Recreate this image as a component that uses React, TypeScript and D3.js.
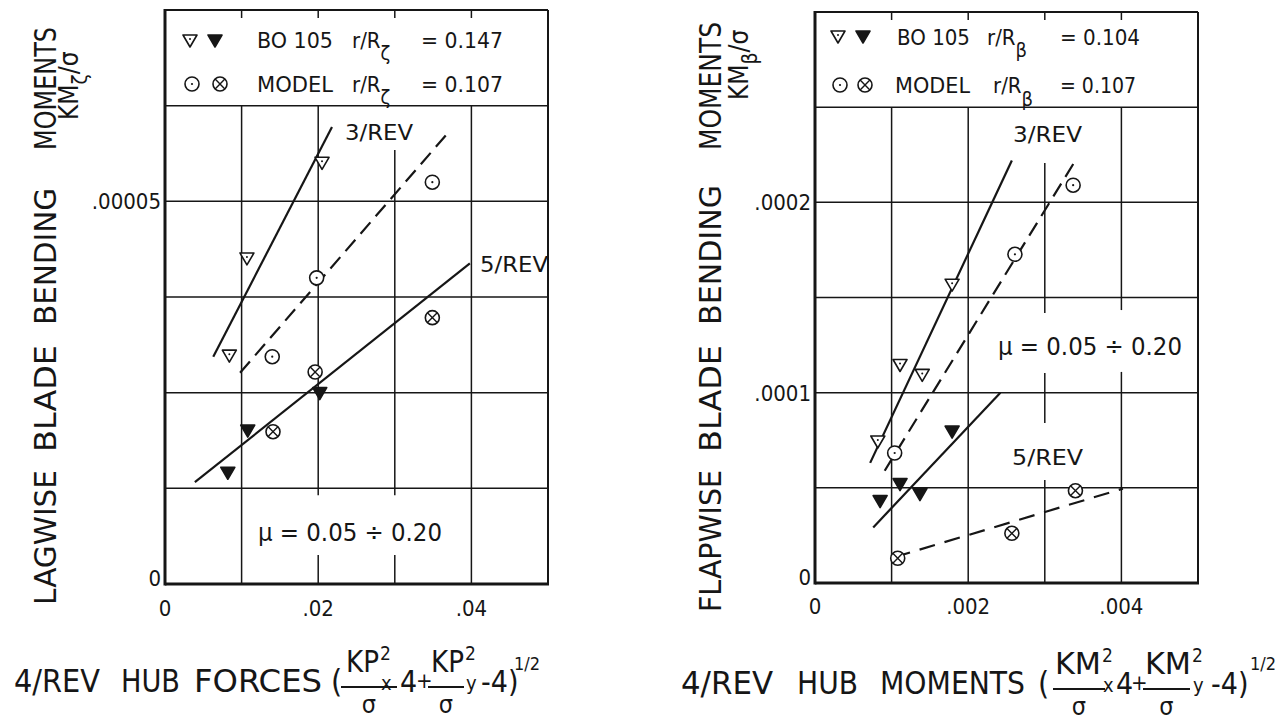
import React from "react";
import * as d3 from "d3";

const FONT = "'DejaVu Sans Condensed', 'Liberation Sans Narrow', 'DejaVu Sans', sans-serif";
const INK = "#161616";

type Pt = [number, number];

// ---------- Left panel: lagwise bending moments vs 4/rev hub forces ----------
const lagXDomain: Pt = [0, 0.05];
const lagYDomain: Pt = [0, 0.000075];
const lagXTicks = [0, 0.02, 0.04];
const lagXTickLabels = ["0", ".02", ".04"];
const lagYTicks = [0, 0.00005];
const lagYTickLabels = ["0", ".00005"];
const lagXGrid = [0.01, 0.02, 0.03, 0.04];
const lagYGrid = [0.0000125, 0.000025, 0.0000375, 0.00005, 0.0000625];

const lagBo105Open3: Pt[] = [[0.0205, 0.0000551], [0.0107, 0.0000426], [0.0084, 0.0000299]];
const lagBo105Filled5: Pt[] = [[0.0108, 0.0000201], [0.0082, 0.0000146], [0.0202, 0.000025]];
const lagModelOpen3: Pt[] = [[0.0349, 0.0000525], [0.0198, 0.00004], [0.014, 0.0000297]];
const lagModelCross5: Pt[] = [[0.0349, 0.0000348], [0.0196, 0.0000277], [0.0141, 0.0000199]];

const lagFitBo105_3: Pt[] = [[0.0063, 0.0000297], [0.0218, 0.0000597]];
const lagFitModel_3: Pt[] = [[0.0098, 0.0000276], [0.0369, 0.0000589]];
const lagFit_5: Pt[] = [[0.0039, 0.0000133], [0.0398, 0.0000419]];

// ---------- Right panel: flapwise bending moments vs 4/rev hub moments ----------
const flapXDomain: Pt = [0, 0.005];
const flapYDomain: Pt = [0, 0.0003];
const flapXTicks = [0, 0.002, 0.004];
const flapXTickLabels = ["0", ".002", ".004"];
const flapYTicks = [0, 0.0001, 0.0002];
const flapYTickLabels = ["0", ".0001", ".0002"];
const flapXGrid = [0.001, 0.002, 0.003, 0.004];
const flapYGrid = [0.00005, 0.0001, 0.00015, 0.0002, 0.00025];

const flapBo105Open3: Pt[] = [[0.00179, 0.000157], [0.00111, 0.0001148], [0.0014, 0.0001096], [0.00082, 0.0000746]];
const flapBo105Filled5: Pt[] = [[0.00179, 0.0000798], [0.00085, 0.0000433], [0.00111, 0.0000522], [0.00137, 0.000047]];
const flapModelOpen3: Pt[] = [[0.00337, 0.000209], [0.00261, 0.0001727], [0.00104, 0.0000683]];
const flapModelCross5: Pt[] = [[0.0034, 0.0000485], [0.00257, 0.0000261], [0.00108, 0.000013]];

const flapFitBo105_3: Pt[] = [[0.00072, 0.0000631], [0.00257, 0.000222]];
const flapFitModel_3: Pt[] = [[0.00091, 0.000059], [0.0034, 0.000222]];
const flapFitBo105_5: Pt[] = [[0.00076, 0.0000292], [0.00242, 0.0001]];
const flapFitModel_5: Pt[] = [[0.00104, 0.0000136], [0.00402, 0.0000496]];

type Gap = { x: number; from: number; to: number };

const lagGaps: Gap[] = [
  { x: 0.03, from: 0.0000567, to: 0.0000625 },
  { x: 0.02, from: 0.0000038, to: 0.0000116 },
  { x: 0.03, from: 0.0000038, to: 0.0000116 },
];
const flapGaps: Gap[] = [
  { x: 0.003, from: 0.0002207, to: 0.00025 },
  { x: 0.003, from: 0.0001103, to: 0.0001419 },
  { x: 0.003, from: 0.0000541, to: 0.0000841 },
  { x: 0.004, from: 0.0001109, to: 0.0001434 },
];

type MarkerKind = "triOpen" | "triFilled" | "circOpen" | "circCross";

function Marker({ kind, cx, cy }: { kind: MarkerKind; cx: number; cy: number }) {
  if (kind === "triOpen" || kind === "triFilled") {
    const d = `M${cx - 7},${cy - 5} L${cx + 7},${cy - 5} L${cx},${cy + 7} Z`;
    return (
      <g>
        <path d={d} fill={kind === "triFilled" ? INK : "#fff"} stroke={INK} strokeWidth={1.6} strokeLinejoin="round" />
        {kind === "triOpen" && <circle cx={cx} cy={cy - 1} r={1} fill={INK} />}
      </g>
    );
  }
  const r = 7;
  const k = r * 0.7;
  return (
    <g>
      <circle cx={cx} cy={cy} r={r} fill="#fff" stroke={INK} strokeWidth={1.6} />
      {kind === "circOpen" ? (
        <circle cx={cx} cy={cy} r={1.1} fill={INK} />
      ) : (
        <path d={`M${cx - k},${cy - k} L${cx + k},${cy + k} M${cx + k},${cy - k} L${cx - k},${cy + k}`} stroke={INK} strokeWidth={1.4} />
      )}
    </g>
  );
}

type Series = { pts: Pt[]; kind: MarkerKind };
type Fit = { pts: Pt[]; dashed?: string };

type PanelProps = {
  xRange: Pt;
  yRange: Pt;
  xDomain: Pt;
  yDomain: Pt;
  xGrid: number[];
  yGrid: number[];
  legendValue: number;
  gaps: Gap[];
  xTicks: number[];
  xTickLabels: string[];
  yTicks: number[];
  yTickLabels: string[];
  xLabelBaseline: number;
  series: Series[];
  fits: Fit[];
};

function Panel(p: PanelProps) {
  const x = d3.scaleLinear().domain(p.xDomain).range(p.xRange);
  const y = d3.scaleLinear().domain(p.yDomain).range(p.yRange);
  const line = d3.line<Pt>().x((d) => x(d[0])).y((d) => y(d[1]));
  const [x0, x1] = p.xRange;
  const [yb, yt] = p.yRange;

  const vSegments: { gx: number; a: number; b: number }[] = [];
  p.xGrid.forEach((gx) => {
    const gs = p.gaps.filter((g) => g.x === gx).sort((a, b) => a.from - b.from);
    let start = p.yDomain[0];
    gs.forEach((g) => {
      vSegments.push({ gx, a: start, b: g.from });
      start = g.to;
    });
    if (start < p.legendValue) vSegments.push({ gx, a: start, b: p.legendValue });
  });

  return (
    <g>
      {p.yGrid.map((gy, i) => (
        <line key={"h" + i} x1={x0} x2={x1} y1={y(gy)} y2={y(gy)} stroke={INK} strokeWidth={1.5} />
      ))}
      {vSegments.map((s, i) => (
        <line key={"v" + i} x1={x(s.gx)} x2={x(s.gx)} y1={y(s.a)} y2={y(s.b)} stroke={INK} strokeWidth={1.5} />
      ))}
      {p.xGrid.map((gx, i) => (
        <line key={"t" + i} x1={x(gx)} x2={x(gx)} y1={yt} y2={yt + 8} stroke={INK} strokeWidth={1.5} />
      ))}
      {/* frame */}
      <line x1={x0} x2={x1} y1={yt} y2={yt} stroke={INK} strokeWidth={2} />
      <line x1={x1} x2={x1} y1={yt} y2={yb} stroke={INK} strokeWidth={2} />
      <line x1={x0} x2={x0} y1={yt - 1} y2={yb + 1.5} stroke={INK} strokeWidth={3} />
      <line x1={x0} x2={x1 + 1} y1={yb} y2={yb} stroke={INK} strokeWidth={3} />

      {p.fits.map((f, i) => (
        <path key={"f" + i} d={line(f.pts) || ""} fill="none" stroke={INK} strokeWidth={2.2} strokeDasharray={f.dashed} />
      ))}
      {p.series.map((s, i) =>
        s.pts.map((d, j) => <Marker key={"m" + i + "_" + j} kind={s.kind} cx={x(d[0])} cy={y(d[1])} />)
      )}

      {p.xTicks.map((v, i) => (
        <text key={"xl" + i} x={x(v)} y={p.xLabelBaseline} textAnchor="middle" fontSize={22} fill={INK} fontFamily={FONT}>
          {p.xTickLabels[i]}
        </text>
      ))}
      {p.yTicks.map((v, i) => (
        <text key={"yl" + i} x={x0 - 4} y={v === 0 ? y(v) + 2 : y(v) + 8} textAnchor="end" fontSize={22} fill={INK} fontFamily={FONT}>
          {p.yTickLabels[i]}
        </text>
      ))}
    </g>
  );
}

function T(props: any) {
  const { children, ...rest } = props;
  return (
    <text fill={INK} fontFamily={FONT} {...rest}>
      {children}
    </text>
  );
}

function Word({ text, x, y, len, size }: { text: string; x: number; y: number; len: number; size: number }) {
  return (
    <T x={x} y={y} fontSize={size} textLength={len} lengthAdjust="spacingAndGlyphs">
      {text}
    </T>
  );
}

function VWord({ text, bx, from, to, size }: { text: string; bx: number; from: number; to: number; size: number }) {
  return (
    <T transform={`translate(${bx},${from}) rotate(-90)`} x={0} y={0} fontSize={size} textLength={from - to} lengthAdjust="spacingAndGlyphs">
      {text}
    </T>
  );
}

function Fraction({ num, sup, sub, x, numLen, barX1, barX2, base }: { num: string; sup: string; sub: string; x: number; numLen: number; barX1: number; barX2: number; base: number }) {
  return (
    <g>
      <Word text={num} x={x} y={base - 20} len={numLen} size={30} />
      <T x={x + numLen + 1} y={base - 32} fontSize={19}>{sup}</T>
      <T x={x + numLen + 2} y={base - 2} fontSize={20}>{sub}</T>
      <line x1={barX1} x2={barX2} y1={base - 5} y2={base - 5} stroke={INK} strokeWidth={1.8} />
      <T x={(barX1 + barX2) / 2} y={base + 21} fontSize={25} textAnchor="middle">σ</T>
    </g>
  );
}

export default function App() {
  const W = 1275;
  const H = 725;
  return (
    <svg width={W} height={H} viewBox={`0 0 ${W} ${H}`} style={{ position: "absolute", left: 0, top: 0, background: "#fff" }}>
      <rect x={0} y={0} width={W} height={H} fill="#fff" />

      <Panel
        xRange={[165, 548]}
        yRange={[584, 10]}
        xDomain={lagXDomain}
        yDomain={lagYDomain}
        xGrid={lagXGrid}
        yGrid={lagYGrid}
        legendValue={0.0000625}
        gaps={lagGaps}
        xTicks={lagXTicks}
        xTickLabels={lagXTickLabels}
        yTicks={lagYTicks}
        yTickLabels={lagYTickLabels}
        xLabelBaseline={616}
        fits={[{ pts: lagFitBo105_3 }, { pts: lagFitModel_3, dashed: "15 8" }, { pts: lagFit_5 }]}
        series={[
          { pts: lagBo105Open3, kind: "triOpen" },
          { pts: lagBo105Filled5, kind: "triFilled" },
          { pts: lagModelOpen3, kind: "circOpen" },
          { pts: lagModelCross5, kind: "circCross" },
        ]}
      />

      <Panel
        xRange={[815, 1198]}
        yRange={[583, 12]}
        xDomain={flapXDomain}
        yDomain={flapYDomain}
        xGrid={flapXGrid}
        yGrid={flapYGrid}
        legendValue={0.00025}
        gaps={flapGaps}
        xTicks={flapXTicks}
        xTickLabels={flapXTickLabels}
        yTicks={flapYTicks}
        yTickLabels={flapYTickLabels}
        xLabelBaseline={614}
        fits={[
          { pts: flapFitBo105_3 },
          { pts: flapFitModel_3, dashed: "15 8" },
          { pts: flapFitBo105_5 },
          { pts: flapFitModel_5, dashed: "16 10" },
        ]}
        series={[
          { pts: flapBo105Open3, kind: "triOpen" },
          { pts: flapBo105Filled5, kind: "triFilled" },
          { pts: flapModelOpen3, kind: "circOpen" },
          { pts: flapModelCross5, kind: "circCross" },
        ]}
      />

      {/* Left legend */}
      <Marker kind="triOpen" cx={190} cy={40} />
      <Marker kind="triFilled" cx={215} cy={40} />
      <Word text="BO 105" x={257} y={48} len={76} size={22} />
      <T x={352} y={48} fontSize={22}>r/R<tspan fontSize={20} dy={12}>ζ</tspan></T>
      <Word text="= 0.147" x={421} y={48} len={82} size={22} />
      <Marker kind="circOpen" cx={192} cy={84} />
      <Marker kind="circCross" cx={220} cy={84} />
      <Word text="MODEL" x={257} y={92} len={76} size={22} />
      <T x={352} y={92} fontSize={22}>r/R<tspan fontSize={20} dy={12}>ζ</tspan></T>
      <Word text="= 0.107" x={421} y={92} len={82} size={22} />

      {/* Left annotations */}
      <Word text="3/REV" x={345} y={140} len={68} size={22} />
      <Word text="5/REV" x={480} y={272} len={68} size={22} />
      <Word text="μ = 0.05 ÷ 0.20" x={258} y={541} len={184} size={25} />

      {/* Right legend */}
      <Marker kind="triOpen" cx={838} cy={36} />
      <Marker kind="triFilled" cx={863} cy={36} />
      <Word text="BO 105" x={897} y={45} len={73} size={22} />
      <T x={987} y={45} fontSize={22}>r/R<tspan fontSize={20} dy={12}>β</tspan></T>
      <Word text="= 0.104" x={1060} y={45} len={80} size={22} />
      <Marker kind="circOpen" cx={840} cy={85} />
      <Marker kind="circCross" cx={865} cy={85} />
      <Word text="MODEL" x={895} y={93} len={75} size={22} />
      <T x={993} y={93} fontSize={22}>r/R<tspan fontSize={20} dy={13}>β</tspan></T>
      <Word text="= 0.107" x={1060} y={93} len={76} size={22} />

      {/* Right annotations */}
      <Word text="3/REV" x={1013} y={142} len={69} size={22} />
      <Word text="5/REV" x={1012} y={465} len={71} size={22} />
      <Word text="μ = 0.05 ÷ 0.20" x={998} y={355} len={184} size={25} />

      {/* Left y title */}
      <VWord text="LAGWISE" bx={56} from={605} to={470} size={31} />
      <VWord text="BLADE" bx={56} from={452} to={345} size={31} />
      <VWord text="BENDING" bx={56} from={325} to={188} size={31} />
      <VWord text="MOMENTS" bx={56} from={150} to={27} size={31} />
      <T transform="translate(78,120) rotate(-90)" x={0} y={0} fontSize={26}>
        KM<tspan fontSize={21} dy={9}>ζ</tspan><tspan dy={-9}>/σ</tspan>
      </T>

      {/* Right y title */}
      <VWord text="FLAPWISE" bx={721} from={612} to={470} size={31} />
      <VWord text="BLADE" bx={721} from={452} to={345} size={31} />
      <VWord text="BENDING" bx={721} from={325} to={185} size={31} />
      <VWord text="MOMENTS" bx={721} from={150} to={22} size={31} />
      <T transform="translate(748,100) rotate(-90)" x={0} y={0} fontSize={26}>
        KM<tspan fontSize={21} dy={9}>β</tspan><tspan dy={-9}>/σ</tspan>
      </T>

      {/* Left x title */}
      <Word text="4/REV" x={14} y={692} len={86} size={32} />
      <Word text="HUB" x={121} y={692} len={59} size={32} />
      <Word text="FORCES" x={194} y={692} len={128} size={32} />
      <T x={331} y={692} fontSize={32}>(</T>
      <Fraction num="KP" sup="2" sub="x" x={346} numLen={33} barX1={341} barX2={397} base={692} />
      <T x={400} y={692} fontSize={30}>4</T>
      <T x={416} y={688} fontSize={22}>+</T>
      <Fraction num="KP" sup="2" sub="y" x={431} numLen={33} barX1={428} barX2={464} base={692} />
      <T x={481} y={692} fontSize={30}>-4)</T>
      <T x={514} y={670} fontSize={18}>1/2</T>

      {/* Right x title */}
      <Word text="4/REV" x={681} y={694} len={92} size={32} />
      <Word text="HUB" x={797} y={694} len={61} size={32} />
      <Word text="MOMENTS" x={880} y={694} len={145} size={32} />
      <T x={1038} y={694} fontSize={32}>(</T>
      <Fraction num="KM" sup="2" sub="x" x={1055} numLen={46} barX1={1053} barX2={1105} base={694} />
      <T x={1116} y={694} fontSize={30}>4</T>
      <T x={1131} y={690} fontSize={22}>+</T>
      <Fraction num="KM" sup="2" sub="y" x={1145} numLen={46} barX1={1143} barX2={1190} base={694} />
      <T x={1211} y={694} fontSize={30}>-4)</T>
      <T x={1250} y={670} fontSize={18}>1/2</T>
    </svg>
  );
}
